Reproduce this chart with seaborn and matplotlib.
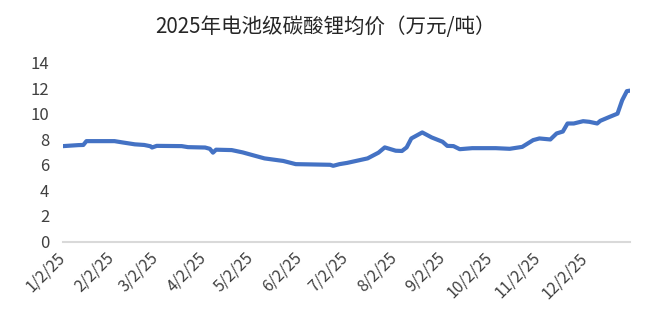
import matplotlib
matplotlib.use("Agg")
import matplotlib.pyplot as plt
import seaborn as sns
import pandas as pd

# dates and average price (万元/吨)
dates = ["2025-01-02", "2025-01-12", "2025-01-15", "2025-01-17", "2025-02-04",
         "2025-02-09", "2025-02-17", "2025-02-23", "2025-02-27", "2025-02-28",
         "2025-03-03", "2025-03-19", "2025-03-23", "2025-04-03", "2025-04-06",
         "2025-04-08", "2025-04-10", "2025-04-20", "2025-04-27", "2025-05-05",
         "2025-05-11", "2025-05-23", "2025-05-31", "2025-06-09", "2025-06-22",
         "2025-06-24", "2025-06-28", "2025-07-03", "2025-07-16", "2025-07-23",
         "2025-07-27", "2025-08-03", "2025-08-07", "2025-08-10", "2025-08-13",
         "2025-08-20", "2025-08-26", "2025-09-02", "2025-09-05", "2025-09-09",
         "2025-09-13", "2025-09-21", "2025-10-06", "2025-10-15", "2025-10-23",
         "2025-10-30", "2025-11-03", "2025-11-10", "2025-11-14", "2025-11-18",
         "2025-11-21", "2025-11-25", "2025-12-01", "2025-12-05", "2025-12-10",
         "2025-12-12", "2025-12-18", "2025-12-23", "2025-12-26", "2025-12-29",
         "2025-12-31"]
price = [7.46, 7.54, 7.55, 7.85, 7.85, 7.75, 7.60, 7.55, 7.45, 7.35, 7.48, 7.46,
         7.38, 7.35, 7.25, 6.95, 7.18, 7.15, 6.97, 6.70, 6.50, 6.30, 6.05, 6.03,
         6.00, 5.92, 6.05, 6.15, 6.50, 6.95, 7.36, 7.10, 7.08, 7.36, 8.06, 8.53,
         8.14, 7.80, 7.48, 7.46, 7.22, 7.30, 7.30, 7.25, 7.40, 7.93, 8.06, 7.98,
         8.45, 8.60, 9.23, 9.23, 9.41, 9.36, 9.23, 9.44, 9.75, 10.00, 11.05, 11.76, 11.80]

tick_dates = ["2025-01-02", "2025-02-02", "2025-03-02", "2025-04-02", "2025-05-02",
              "2025-06-02", "2025-07-02", "2025-08-02", "2025-09-02", "2025-10-02",
              "2025-11-02", "2025-12-02"]
tick_labels = ["1/2/25", "2/2/25", "3/2/25", "4/2/25", "5/2/25", "6/2/25",
               "7/2/25", "8/2/25", "9/2/25", "10/2/25", "11/2/25", "12/2/25"]
y_ticks = [0, 2, 4, 6, 8, 10, 12, 14]
title = "2025年电池级碳酸锂均价（万元/吨）"

sns.set_theme(style="white")
plt.rcParams['font.family'] = ['Noto Sans CJK SC', 'DejaVu Sans']

df = pd.DataFrame({"date": pd.to_datetime(dates), "price": price})

fig = plt.figure(figsize=(6.5, 3.27), dpi=100)
ax = fig.add_axes([63/650, 1 - 241.5/327, (630 - 63)/650, (241.5 - 62.5)/327])
sns.lineplot(data=df, x="date", y="price", ax=ax, color="#4472C4", linewidth=3.0)

ax.set_xlim(pd.Timestamp("2025-01-02"), pd.Timestamp("2025-12-31"))
ax.set_ylim(0, 14)
ax.set_yticks(y_ticks)
ax.set_yticklabels([str(v) for v in y_ticks], fontsize=12, color="#404040")
ax.set_xticks(pd.to_datetime(tick_dates))
ax.set_xticklabels(tick_labels, fontsize=11.5, color="#404040",
                   rotation=45, ha="right", va="center", rotation_mode="anchor")
ax.tick_params(axis="both", length=0)
ax.tick_params(axis="x", pad=10)
ax.tick_params(axis="y", pad=10)
ax.set_xlabel("")
ax.set_ylabel("")
for s in ["top", "right", "left"]:
    ax.spines[s].set_visible(False)
ax.spines["bottom"].set_color("#D9D9D9")
ax.spines["bottom"].set_linewidth(1.5)
ax.grid(False)

fig.text(0.5, 1 - 27/327, title, ha="center", va="center", fontsize=14.8, color="#262626")

fig.savefig("out.png", dpi=100)
